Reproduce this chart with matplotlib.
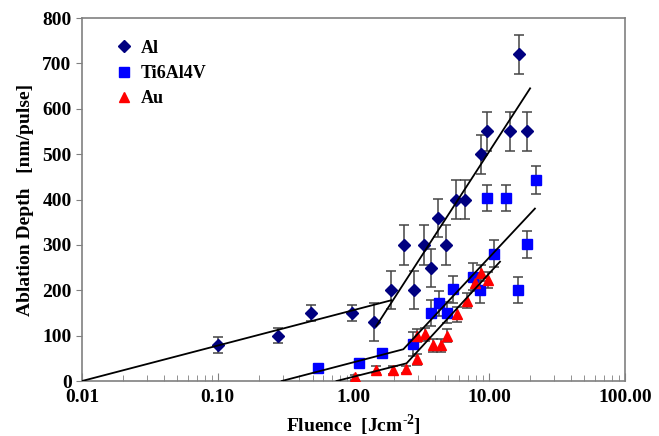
import matplotlib
matplotlib.use("Agg")
import matplotlib.pyplot as plt
from matplotlib.ticker import LogLocator, NullFormatter
from matplotlib.lines import Line2D

plt.rcParams['font.family'] = ['Liberation Serif', 'DejaVu Serif']
plt.rcParams['font.weight'] = 'bold'
plt.rcParams['mathtext.fontset'] = 'custom'
plt.rcParams['mathtext.rm'] = 'Liberation Serif:bold'
plt.rcParams['mathtext.bf'] = 'Liberation Serif:bold'

# ---- data ----
al_fluence = [0.10, 0.28, 0.49, 0.97, 1.42, 1.90, 2.36, 2.80, 3.30, 3.72, 4.20, 4.80,
              5.70, 6.60, 8.70, 9.60, 14.2, 16.6, 19.0]
al_depth = [80, 100, 150, 150, 130, 200, 300, 200, 300, 250, 360, 300,
            400, 400, 500, 550, 550, 720, 550]
al_err = [18, 17, 18, 18, 42, 42, 44, 42, 44, 42, 42, 44,
          43, 43, 43, 42, 42, 43, 42]

ti_fluence = [0.55, 1.09, 1.61, 2.73, 3.71, 4.27, 4.90, 5.45, 7.55, 8.60, 9.60, 10.8,
              13.3, 16.2, 19.0, 22.0]
ti_depth = [28, 39, 61, 82, 150, 171, 151, 202, 230, 200, 404, 281,
            404, 200, 301, 443]
ti_err = [8, 8, 9, 27, 28, 28, 24, 29, 29, 29, 29, 29,
          29, 29, 29, 30]

au_fluence = [1.02, 1.46, 1.95, 2.44, 2.92, 2.95, 3.37, 3.87, 4.41, 4.88, 5.80,
              6.85, 7.80, 8.65, 9.80]
au_depth = [8, 25, 24, 26, 48, 100, 103, 79, 79, 100, 147, 177, 217, 238, 222]
au_err = [6, 8, 8, 8, 12, 14, 14, 14, 14, 14, 16, 16, 18, 18, 18]

# fit lines (fluence, depth)
al_fit_low_x = [0.01, 1.90]
al_fit_low_y = [0, 178]
al_fit_high_x = [1.47, 20.0]
al_fit_high_y = [121, 645]
ti_fit_x = [0.296, 2.33, 21.7]
ti_fit_y = [0, 70, 380]
au_fit_x = [0.75, 2.46, 12.0]
au_fit_y = [0, 39, 263]

series_names = ['Al', 'Ti6Al4V', 'Au']

fig = plt.figure(figsize=(6.59, 4.36), dpi=100)
ax = fig.add_axes([0.1244, 0.1261, 0.824, 0.8326])

ecol = '#444444'
styles = [('D', '#000080', 6.5), ('s', '#0000FF', 7), ('^', '#FF0000', 7.5)]
for (fx, fy, fe), (m, c, ms) in zip([(al_fluence, al_depth, al_err),
                                     (ti_fluence, ti_depth, ti_err),
                                     (au_fluence, au_depth, au_err)], styles):
    ax.errorbar(fx, fy, yerr=fe, fmt=m, color=c, ms=ms, ecolor=ecol,
                elinewidth=1.1, capsize=3.5, capthick=1.1, zorder=3)

for fx, fy in [(al_fit_low_x, al_fit_low_y), (al_fit_high_x, al_fit_high_y),
               (ti_fit_x, ti_fit_y), (au_fit_x, au_fit_y)]:
    ax.plot(fx, fy, color='black', lw=1.3, zorder=4)

ax.set_xscale('log')
ax.set_xlim(0.01, 100)
ax.set_ylim(0, 800)
ax.set_xticks([0.01, 0.1, 1, 10, 100])
ax.set_xticklabels(['0.01', '0.10', '1.00', '10.00', '100.00'])
ax.xaxis.set_minor_locator(LogLocator(base=10, subs=range(2, 10)))
ax.xaxis.set_minor_formatter(NullFormatter())
ax.set_yticks(range(0, 801, 100))

for s in ax.spines.values():
    s.set_color('#808080')
    s.set_linewidth(1.2)

ax.tick_params(axis='x', which='both', direction='in', colors='#808080',
               labelcolor='black', labelsize=14, pad=6)
ax.tick_params(axis='x', which='major', length=6)
ax.tick_params(axis='x', which='minor', length=4)
ax.tick_params(axis='y', direction='out', length=4, colors='#808080',
               labelcolor='black', labelsize=14, right=False)
for lab in ax.get_xticklabels() + ax.get_yticklabels():
    lab.set_fontweight('bold')

ax.set_xlabel('Fluence  [Jcm$^{\\text{-2}}$]', fontsize=14, fontweight='bold', labelpad=4)
ax.set_ylabel('Ablation Depth   [nm/pulse]', fontsize=14, fontweight='bold', labelpad=6)

handles = [Line2D([], [], ls='none', marker=m, color=c, ms=ms * 0.95) for (m, c, ms) in styles]
leg = ax.legend(handles, series_names, loc='upper left', bbox_to_anchor=(0.035, 0.985),
                frameon=False, prop={'weight': 'bold', 'size': 13},
                handlelength=0.8, handletextpad=0.5, labelspacing=0.45)

fig.savefig('out.png', dpi=100)
